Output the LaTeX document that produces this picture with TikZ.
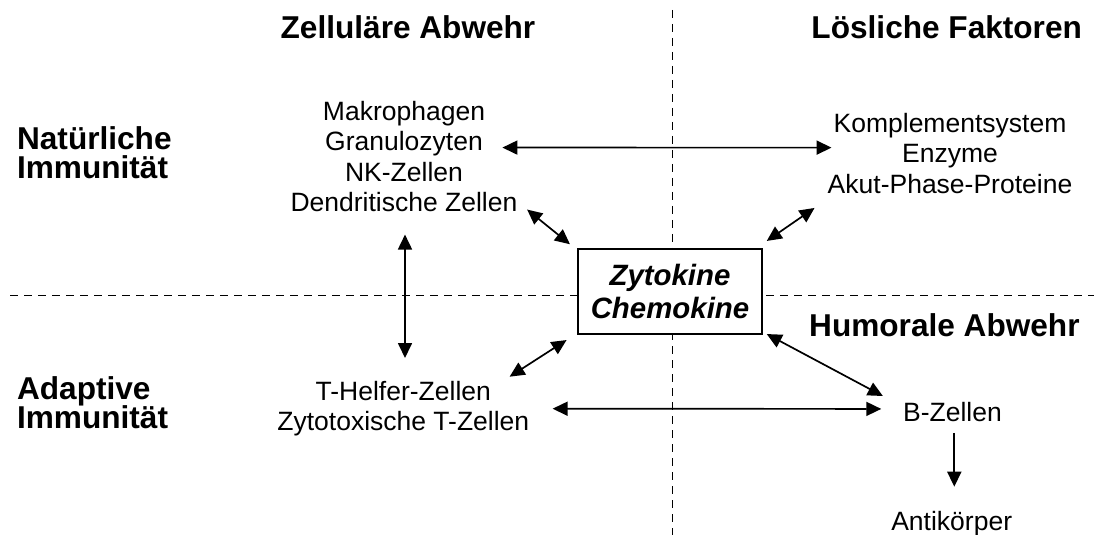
\documentclass[tikz,border=0pt]{standalone}
\usepackage{fontspec}
\setmainfont{Liberation Sans}
\usetikzlibrary{arrows.meta}

\tikzset{
  celltext/.style={inner sep=0pt, align=center, font=\fontsize{13.25}{15.15}\selectfont},
  heading/.style={inner sep=0pt, align=left, font=\fontsize{15.8}{14.5}\selectfont\bfseries\lineskiplimit-20pt\relax},
  divider/.style={line width=0.5pt, dash pattern=on 4pt off 3pt},
  twoway/.style={line width=0.85pt, {Triangle[length=7.5pt,width=7pt]}-{Triangle[length=7.5pt,width=7pt]}},
  oneway/.style={line width=0.85pt, -{Triangle[length=7.5pt,width=7pt]}},
  hub/.style={draw, line width=0.75pt, fill=white, minimum width=92pt, minimum height=42.5pt,
    align=center, font=\fontsize{14.7}{16.35}\selectfont\bfseries\itshape}
}

\begin{document}
\begin{tikzpicture}[x=0.5pt,y=-0.5pt]
\useasboundingbox (0,0) rectangle (1104,535);

% quadrant dividers
\draw[divider] (672,10) -- (672,535);
\draw[divider] (10,295) -- (1094,295);

% headings
\node[heading, anchor=north] (cellular) at (408,15) {Zelluläre Abwehr};
\node[heading, anchor=north] (soluble) at (946.7,15) {Lösliche Faktoren};
\node[heading, anchor=north east] (humoral) at (1080,313.5) {Humorale Abwehr};
\node[heading, anchor=north west] (innate) at (16.7,126.5) {Natürliche\\Immunität};
\node[heading, anchor=north west] (adaptive) at (16.7,376.7) {Adaptive\\Immunität};

% cells and factors
\node[celltext, anchor=north] (phagocytes) at (404,101) {Makrophagen\\Granulozyten\\NK-Zellen\\Dendritische Zellen};
\node[celltext, anchor=north] (factors) at (950,113) {Komplementsystem\\Enzyme\\Akut-Phase-Proteine};
\node[celltext, anchor=north] (tcells) at (403.3,380.5) {T-Helfer-Zellen\\Zytotoxische T-Zellen};
\node[celltext, anchor=north] (bcells) at (952.5,401.5) {B-Zellen};
\node[celltext, anchor=north] (antibodies) at (951.7,510.5) {Antikörper};

% messengers in the middle
\node[hub] (zyto) at (670,291.5) {Zytokine\\Chemokine};

% connections
\draw[twoway] ([shift={(-15.4,-9)}]phagocytes.east) -- ([shift={(4.2,-5.8)}]factors.west);
\draw[twoway] ([shift={(9.3,-2.6)}]phagocytes.south east) -- ([shift={(-7.3,-4)}]zyto.north west);
\draw[twoway] ([shift={(4,-7.3)}]zyto.north east) -- ([shift={(-12.8,14.1)}]factors.south west);
\draw[twoway] ([shift={(-10.7,5.3)}]zyto.south west) -- ([shift={(-20,-3.8)}]tcells.north east);
\draw[twoway] ([shift={(4,-0.7)}]zyto.south east) -- ([shift={(-19.9,-5.5)}]bcells.north west);
\draw[twoway] ([shift={(23,0.3)}]tcells.east) -- ([shift={(-21.5,-2.7)}]bcells.west);
\draw[twoway] ([shift={(1,22.4)}]phagocytes.south) -- ([shift={(1.7,-22.5)}]tcells.north);
\draw[oneway] ([shift={(1.8,11.2)}]bcells.south) -- ([shift={(2.6,-23.8)}]antibodies.north);
\end{tikzpicture}
\end{document}
